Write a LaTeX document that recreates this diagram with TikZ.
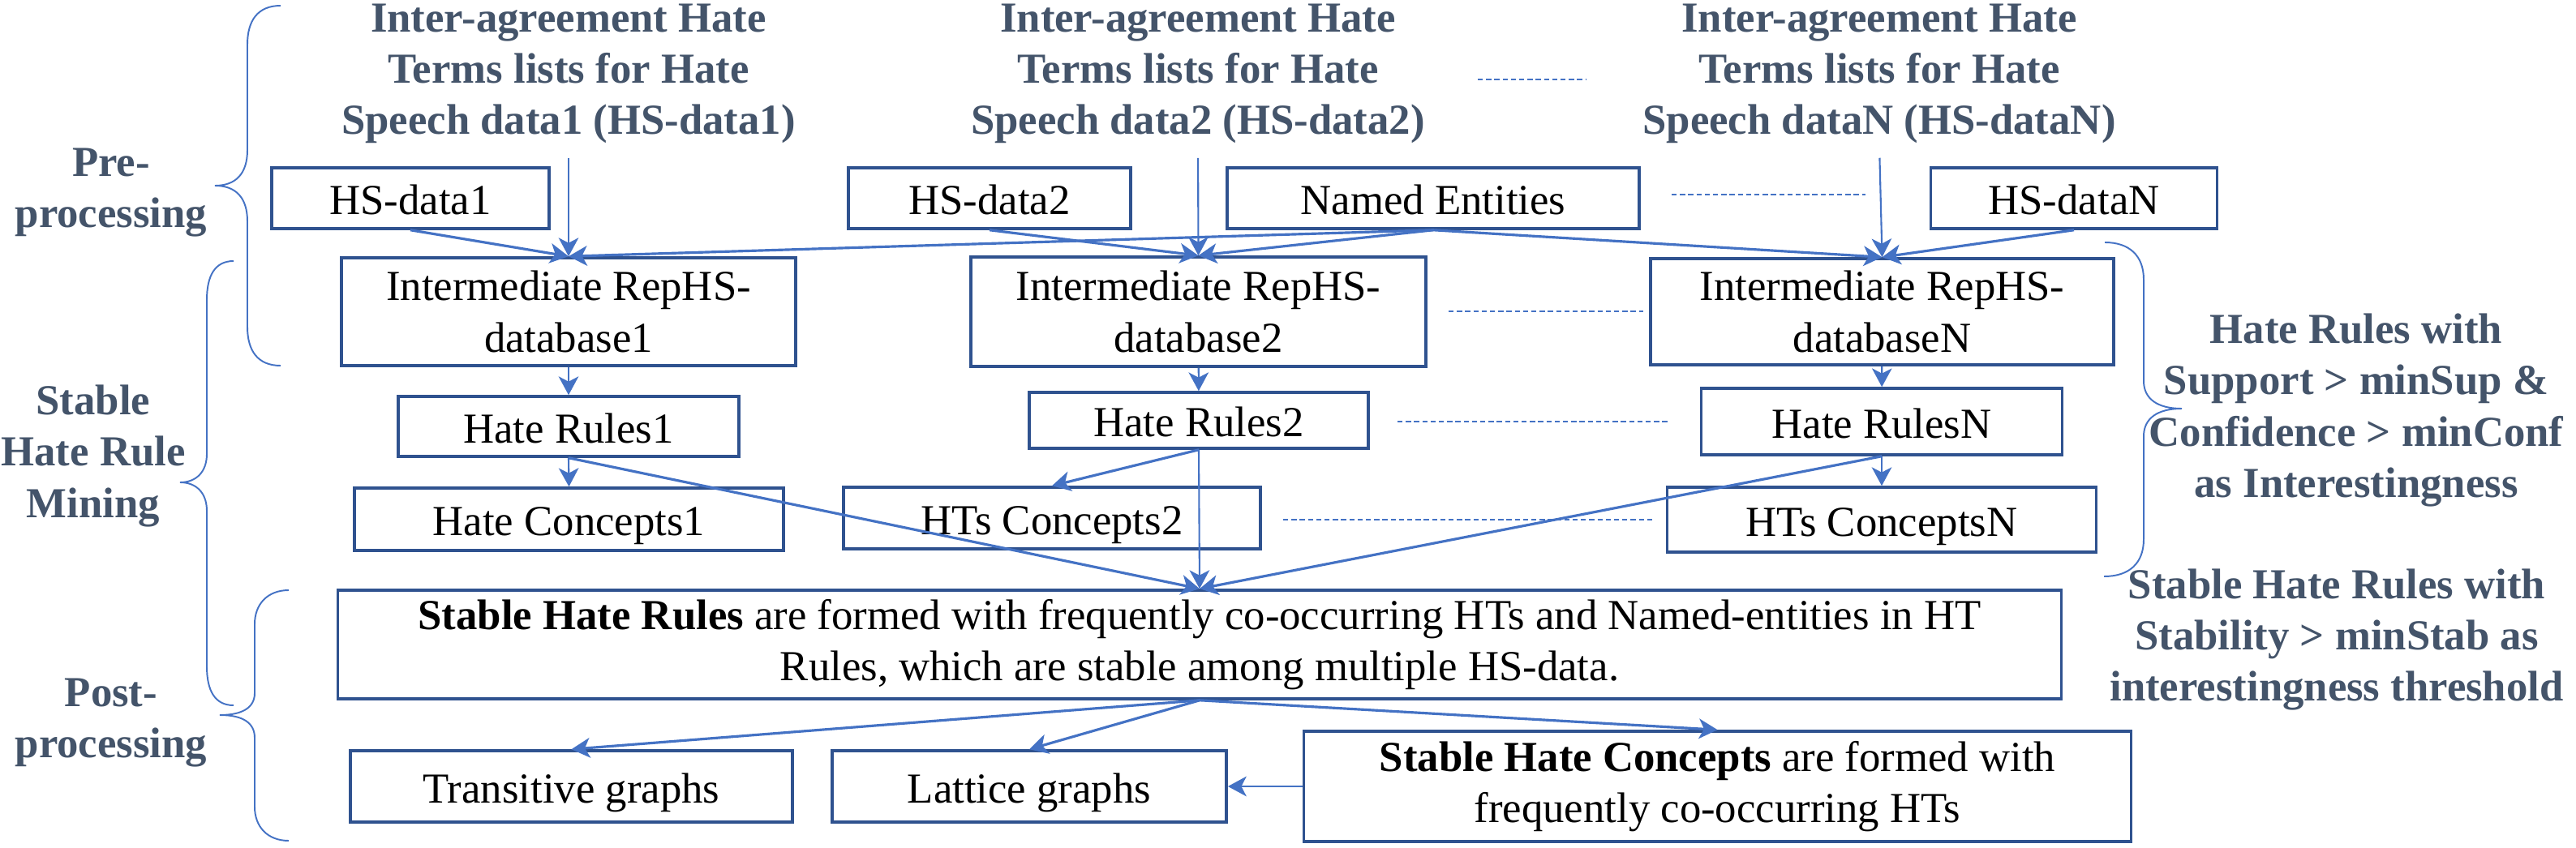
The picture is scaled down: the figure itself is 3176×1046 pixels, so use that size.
\documentclass[tikz,border=0pt]{standalone}
\usepackage{fontspec}
\setmainfont{Liberation Serif}
\usepackage{xcolor}
\usepackage{tikz}
\usetikzlibrary{arrows.meta}

\definecolor{boxline}{HTML}{2F528F}
\definecolor{arrline}{HTML}{4472C4}
\definecolor{labeltext}{HTML}{44546A}

\begin{document}
\begin{tikzpicture}[x=0.01cm, y=-0.01cm,
    font=\fontsize{15}{18}\selectfont,
    box/.style={draw=boxline, line width=1pt, inner sep=0pt, align=center},
    oneline/.style={box, text height=11.4pt, text depth=0pt},
    heading/.style={text=labeltext, font=\fontsize{15}{18}\selectfont\bfseries, align=center, inner sep=0pt},
    arr/.style={-{Stealth[length=6.5pt,width=7pt,inset=1.8pt]}, draw=arrline, line width=0.9pt},
    thinarr/.style={arr, line width=0.6pt},
    dots/.style={draw=arrline, line width=0.5pt, dash pattern=on 1.8pt off 1.1pt},
    curly/.style={draw=arrline, line width=0.55pt}]
    \useasboundingbox (0,0) rectangle (3176,1046);

    % term lists
    \node[heading] (t1) at (701,91) {Inter-agreement Hate\\Terms lists for Hate\\Speech data1 (HS-data1)};
    \node[heading] (t2) at (1477,91) {Inter-agreement Hate\\Terms lists for Hate\\Speech data2 (HS-data2)};
    \node[heading] (t3) at (2317,91) {Inter-agreement Hate\\Terms lists for Hate\\Speech dataN (HS-dataN)};

    % data sets
    \node[oneline, minimum width=3.42cm, minimum height=0.75cm] (hs1) at (506,244.5) {HS-data1};
    \node[oneline, minimum width=3.48cm, minimum height=0.75cm] (hs2) at (1220,244.5) {HS-data2};
    \node[oneline, minimum width=5.08cm, minimum height=0.75cm] (ne) at (1767,244.5) {Named Entities};
    \node[oneline, minimum width=3.53cm, minimum height=0.75cm] (hsN) at (2557,244.5) {HS-dataN};

    \node[box, minimum width=5.6cm, minimum height=1.33cm] (db1) at (701,384.5) {Intermediate RepHS-\\database1};
    \node[box, minimum width=5.61cm, minimum height=1.35cm] (db2) at (1477.5,384.5) {Intermediate RepHS-\\database2};
    \node[box, minimum width=5.71cm, minimum height=1.31cm] (dbN) at (2320.5,384.5) {Intermediate RepHS-\\databaseN};

    % rules and concepts
    \node[oneline, minimum width=4.2cm, minimum height=0.74cm] (hr1) at (701,526) {Hate Rules1};
    \node[oneline, minimum width=4.18cm, minimum height=0.69cm] (hr2) at (1478,518.5) {Hate Rules2};
    \node[oneline, minimum width=4.45cm, minimum height=0.82cm] (hrN) at (2320,520) {Hate RulesN};

    \node[oneline, minimum width=5.29cm, minimum height=0.77cm] (hc1) at (701.5,640.5) {Hate Concepts1};
    \node[oneline, minimum width=5.14cm, minimum height=0.76cm] (hc2) at (1297,639) {HTs Concepts2};
    \node[oneline, minimum width=5.29cm, minimum height=0.8cm] (hcN) at (2320,641) {HTs ConceptsN};

    % stable results
    \node[box, minimum width=21.24cm, minimum height=1.34cm] (shr) at (1479,795) {\textbf{Stable Hate Rules} are formed with frequently co-occurring HTs and Named-entities in HT\\Rules, which are stable among multiple HS-data.};
    \node[oneline, minimum width=5.45cm, minimum height=0.88cm] (tg) at (704.5,970) {Transitive graphs};
    \node[oneline, minimum width=4.86cm, minimum height=0.88cm] (lg) at (1269,970) {Lattice graphs};
    \node[box, minimum width=10.19cm, minimum height=1.36cm] (shc) at (2117.5,970) {\textbf{Stable Hate Concepts} are formed with\\frequently co-occurring HTs};

    % stage labels
    \node[heading] (pre) at (137,237.5) {Pre-\\processing};
    \node[heading] (mine) at (115,562.5) {Stable\\Hate Rule\\Mining};
    \node[heading] (post) at (137,891.5) {Post-\\processing};
    \node[heading] (crit1) at (2905,506) {Hate Rules with\\Support > minSup \&\\Confidence > minConf\\as Interestingness};
    \node[heading] (crit2) at (2881,789) {Stable Hate Rules with\\Stability > minStab as\\interestingness threshold};

    % arrows
    \draw[thinarr, shorten <=4.8pt] (t1.south) -- (db1.north);
    \draw[thinarr, shorten <=4.8pt] (t2.south) -- (db2.north);
    \draw[thinarr, shorten <=4.8pt] (t3.south) -- (dbN.north);
    \draw[arr] (hs1.south) -- (db1.north);
    \draw[arr] (hs2.south) -- (db2.north);
    \draw[arr] (hsN.south) -- (dbN.north);
    \draw[arr] (ne.south) -- (db1.north);
    \draw[arr] (ne.south) -- (db2.north);
    \draw[arr] (ne.south) -- (dbN.north);

    \draw[thinarr] (db1) -- (hr1);
    \draw[thinarr] (db2) -- (hr2);
    \draw[thinarr] (dbN) -- (hrN);

    \draw[thinarr] (hr1.south) -- (hc1.north);
    \draw[arr] (hr2.south) -- (hc2.north);
    \draw[thinarr] (hrN.south) -- (hcN.north);
    \draw[arr] (hr1.south) -- (shr.north);
    \draw[thinarr] (hr2.south) -- (shr.north);
    \draw[arr] (hrN.south) -- (shr.north);

    \draw[arr] (shr.south) -- (tg.north);
    \draw[arr] (shr.south) -- (lg.north);
    \draw[arr] (shr.south) -- (shc.north);
    \draw[arr, line width=0.7pt] (shc.west) -- (lg.east);

    % dotted gaps
    \draw[dots] (1822,98) -- (1955,98);
    \draw[dots] (2061,240) -- (2300,240);
    \draw[dots] (1786,384) -- (2026,384);
    \draw[dots] (1723,520) -- (2056,520);
    \draw[dots] (1582,641) -- (2038,641);

    % braces
    \draw[curly] (346,7) .. controls (318,7) and (305,25) .. (305,55) -- (305,185) .. controls (305,215) and (290,229) .. (265,229) .. controls (290,229) and (305,243) .. (305,273) -- (305,403) .. controls (305,433) and (318,451) .. (346,451);
    \draw[curly] (288,322) .. controls (265,322) and (255,340) .. (255,370) -- (255,560) .. controls (255,582) and (242,595) .. (222,595) .. controls (242,595) and (255,608) .. (255,630) -- (255,822) .. controls (255,852) and (265,870) .. (288,870);
    \draw[curly] (356,728) .. controls (330,728) and (314,745) .. (314,770) -- (314,855) .. controls (314,872) and (300,882) .. (271,882) .. controls (300,882) and (314,892) .. (314,910) -- (314,995) .. controls (314,1020) and (330,1037) .. (356,1037);
    \draw[curly] (2595,299) .. controls (2625,299) and (2643,315) .. (2643,345) -- (2643,470) .. controls (2643,492) and (2660,504) .. (2690,504) .. controls (2660,504) and (2643,516) .. (2643,538) -- (2643,665) .. controls (2643,695) and (2625,711) .. (2594,711);
\end{tikzpicture}
\end{document}
